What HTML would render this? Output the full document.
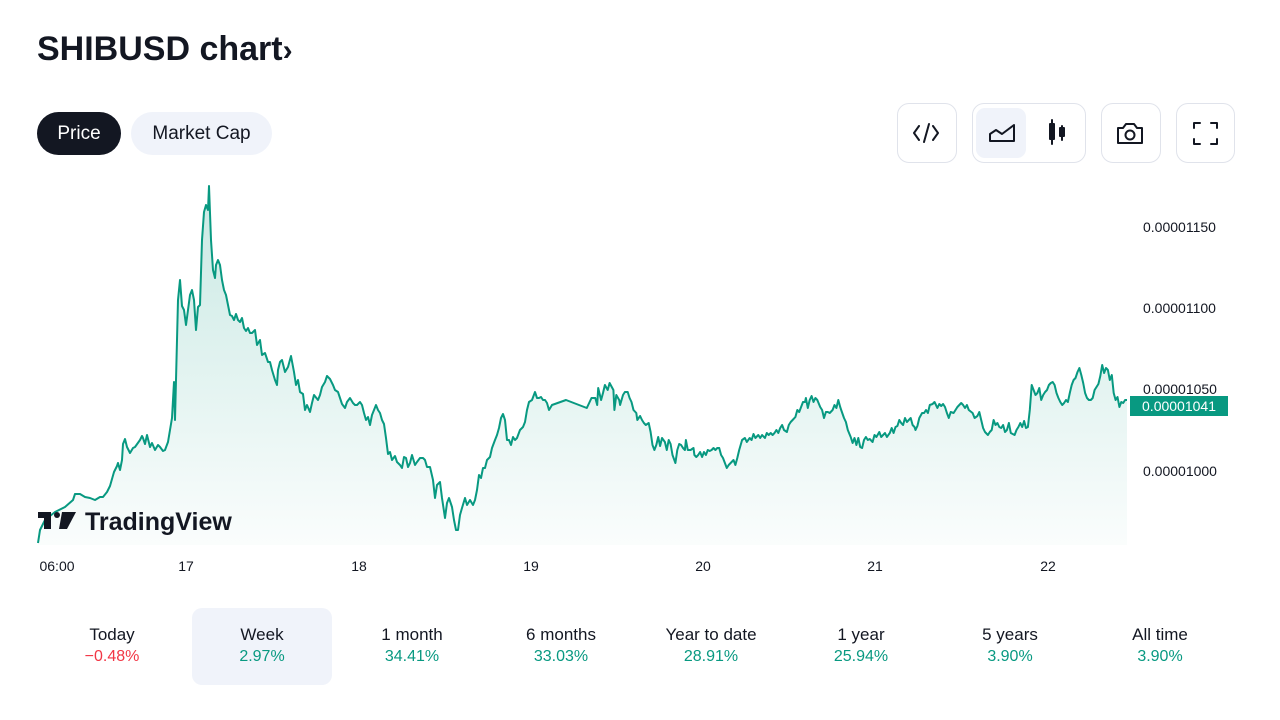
<!DOCTYPE html>
<html><head><meta charset="utf-8"><style>
*{margin:0;padding:0;box-sizing:border-box}
body{width:1280px;height:720px;background:#fff;font-family:"Liberation Sans",sans-serif;color:#131722;position:relative;overflow:hidden}
.abs{position:absolute}
h1{position:absolute;left:37px;top:30px;font-size:34px;font-weight:700;letter-spacing:0px}
.pill{position:absolute;top:112px;height:43px;border-radius:22px;font-size:19px;line-height:43px;text-align:center}
.btn{position:absolute;top:103px;height:60px;border:1px solid #e0e3eb;border-radius:12px}
.yl{position:absolute;left:1143px;font-size:14px;color:#131722}
.xl{position:absolute;top:558px;font-size:14px;color:#131722;transform:translateX(-50%)}
.st{position:absolute;top:625px;width:140px;text-align:center;font-size:17px;transform:translateX(-50%)}
.st b{display:block;font-weight:400;color:#089981;font-size:16px;margin-top:3px}
</style></head><body>
<h1>SHIBUSD chart<span style="font-size:30px">›</span></h1>
<div class="pill" style="left:37px;width:84px;background:#131722;color:#fff">Price</div>
<div class="pill" style="left:131px;width:141px;background:#f0f3fa">Market Cap</div>
<div class="btn" style="left:897px;width:60px"></div>
<div class="btn" style="left:972px;width:114px"></div>
<div class="abs" style="left:976px;top:108px;width:50px;height:50px;background:#f0f3fa;border-radius:9px"></div>
<div class="btn" style="left:1101px;width:60px"></div>
<div class="btn" style="left:1176px;width:59px"></div>
<svg class="abs" style="left:0;top:0" width="1280" height="720">
<g fill="none" stroke="#131722" stroke-width="2" stroke-linecap="round" stroke-linejoin="round">
<path d="M919 126l-5 7 5 7M933 126l5 7-5 7M929 124l-5 18"/>
<path d="M990 141v-7l6-4 6 4 12-9v16z"/>
<rect x="1050" y="124" width="4" height="15"/><path d="M1052 120v24M1062 126v14"/><rect x="1060" y="128" width="4" height="8"/>
<path d="M1118 128h5l3-4h8l3 4h5v15h-24z"/><circle cx="1130" cy="135" r="4.5"/>
<path d="M1194 128v-5h6M1211 123h6v5M1217 139v5h-6M1200 144h-6v-5"/>
</g>
<defs><linearGradient id="g" x1="0" y1="0" x2="0" y2="1"><stop offset="0" stop-color="#089981" stop-opacity="0.22"/><stop offset="1" stop-color="#089981" stop-opacity="0.02"/></linearGradient></defs>
<path id="area" fill="url(#g)"/>
<path id="line" fill="none" stroke="#089981" stroke-width="2" stroke-linejoin="round"/>
<rect x="1130" y="396" width="98" height="20" fill="#089981"/>
<text x="1179" y="411" text-anchor="middle" fill="#fff" font-size="14" font-family="Liberation Sans,sans-serif">0.00001041</text>
<g fill="#131722"><rect x="38" y="512" width="13" height="6"/><rect x="44" y="512" width="7" height="17"/><circle cx="57" cy="515" r="3"/><path d="M62 512h14l-9 17h-8z"/></g>
<text x="85" y="530" font-size="25" font-weight="700" fill="#131722" font-family="Liberation Sans,sans-serif">TradingView</text>
</svg>
<div class="yl" style="top:219px">0.00001150</div>
<div class="yl" style="top:300px">0.00001100</div>
<div class="yl" style="top:381px">0.00001050</div>
<div class="yl" style="top:463px">0.00001000</div>
<div class="xl" style="left:57px">06:00</div><div class="xl" style="left:186px">17</div><div class="xl" style="left:359px">18</div><div class="xl" style="left:531px">19</div><div class="xl" style="left:703px">20</div><div class="xl" style="left:875px">21</div><div class="xl" style="left:1048px">22</div>
<div class="abs" style="left:192px;top:608px;width:140px;height:77px;background:#f0f3fa;border-radius:10px"></div>
<div class="st" style="left:112px">Today<b style="color:#f23645">−0.48%</b></div>
<div class="st" style="left:262px">Week<b>2.97%</b></div>
<div class="st" style="left:412px">1 month<b>34.41%</b></div>
<div class="st" style="left:561px">6 months<b>33.03%</b></div>
<div class="st" style="left:711px">Year to date<b>28.91%</b></div>
<div class="st" style="left:861px">1 year<b>25.94%</b></div>
<div class="st" style="left:1010px">5 years<b>3.90%</b></div>
<div class="st" style="left:1160px">All time<b>3.90%</b></div>
<script>
var a=[38,543,40,530,45,520,55,512,65,507,73,500,75,494,80,494,85,497,90,498,95,500,100,497,103,497,107,492,110,486,114,472,117,466,118,463,120,470,122,460,123,444,125,439,127,447,130,453,133,448,135,447,140,440,142,436,143,438,145,444,147,435,150,447,152,443,155,450,158,445,160,447,163,451,165,450,168,442,170,430,172,418,174,382,175,420,176,380,178,300,180,280,182,306,184,310,186,325,188,310,190,295,192,290,194,300,196,330,198,307,200,305,202,240,204,212,206,205,208,210,209,186,211,240,213,270,215,278,216,265,218,260,220,265,222,280,224,290,226,295,228,305,230,315,232,316,234,320,236,314,238,320,240,322,242,318,244,328,246,331,248,328,250,333,252,333,255,330,257,345,260,340,262,355,265,353,268,362,270,362,272,370,275,380,277,385,278,370,280,362,282,360,285,372,288,367,291,356,294,372,296,385,298,380,300,392,303,394,305,410,307,405,310,412,312,403,314,395,318,400,320,395,322,387,325,382,327,376,330,379,333,385,335,390,338,392,340,398,342,404,345,408,347,402,350,398,353,403,355,405,357,405,360,402,362,405,364,413,366,420,368,417,370,425,372,415,374,410,376,405,378,410,380,413,382,420,384,424,386,438,388,454,390,452,392,460,395,456,397,462,400,465,402,468,404,457,406,458,408,467,410,463,412,455,415,465,417,462,420,458,423,458,425,460,427,467,430,467,433,480,435,498,437,485,440,482,442,498,445,518,447,503,449,498,452,507,454,520,456,530,458,530,460,515,462,508,465,498,467,505,470,500,473,505,475,500,477,490,479,475,481,478,483,468,485,468,487,460,490,457,492,448,495,440,497,435,499,428,501,418,503,414,505,420,507,440,509,440,511,445,513,437,515,440,517,438,520,430,523,427,525,422,527,410,529,402,532,400,535,392,537,398,539,398,541,397,543,400,545,400,547,403,549,410,552,405,566,400];
var b=[580,397,585,408,590,398,594,398,596,405,597,388,600,400,602,393,604,385,607,390,609,383,613,390,614,410,616,395,619,400,620,405,623,395,625,392,628,392,630,398,632,402,634,410,637,413,638,420,641,416,643,420,645,423,647,425,650,423,652,432,654,445,656,450,658,445,660,437,662,446,664,438,667,442,669,450,671,440,673,444,675,455,678,463,680,450,682,444,684,445,686,448,688,450,689,440,691,450,694,450,697,448,698,455,700,457,702,455,704,452,706,457,708,452,710,455,712,450,714,451,716,450,718,448,720,450,722,448,724,448,726,455,728,458,730,463,732,468,734,465,737,462,739,460,741,465,743,458,745,450,748,440,751,438,753,442,756,438,758,440,760,434,762,438,765,435,767,438,769,435,772,438,774,433,776,435,778,433,780,435,782,433,784,430,786,433,788,428,790,425,792,430,795,432,797,425,799,422,801,420,804,417,806,410,808,412,810,407,812,402,814,402,815,398,817,408,819,400,821,396,823,402,825,398,827,400,830,407,832,410,834,418,836,412,838,412,840,413,843,410,845,405,847,408,849,400,851,407,852,410,855,418,857,422,859,430,862,437,864,443,866,438,868,445,870,438,872,447,874,448,876,440,878,437,880,440,882,439,885,442,887,435,889,437,892,432,894,437,896,435,898,433,900,437,903,433,905,428,907,433,909,427,911,426,913,420,915,423,917,425,919,418,921,422,923,420,925,418,927,425,929,427,930,430,932,426,934,418,937,413,939,413,941,410,943,413,945,405,948,404,950,402,951,404,953,408,955,404,957,406,959,404,961,407,963,413,965,418,967,412,970,413,972,410,974,407,976,405,978,403,980,405,982,408,984,405,986,410,990,413,992,418,995,416,997,412,999,420,1001,428,1003,432,1006,435,1008,432,1010,430,1012,420,1014,425,1016,423,1018,427,1020,428,1022,425,1024,432,1026,430,1028,423,1030,433,1032,434,1034,435,1036,430,1038,427,1040,423,1042,427,1044,421,1046,428,1048,427,1050,410,1052,385,1054,390,1056,395,1058,393,1060,388,1062,400,1064,395,1066,392,1068,390,1070,385,1072,383,1074,382,1076,385,1078,393,1080,398,1082,402,1084,405,1086,403,1088,400,1090,402,1092,393,1094,385,1096,380,1098,378,1100,372,1102,368,1104,375,1106,383,1108,393,1110,398,1112,400,1114,400,1116,398,1118,390,1120,387,1122,384,1124,376,1126,365,1128,373,1130,368,1132,370,1134,380,1136,375,1138,393,1140,400,1142,397,1144,407,1146,402,1148,403,1150,400,1152,400];
var p=[];
for(var i=0;i<a.length;i+=2)p.push([a[i],a[i+1]]);
for(i=2;i<b.length;i+=2)p.push([582+(b[i]-580)*(1127-582)/(1152-580),b[i+1]]);
var d="M"+p.map(function(q){return q[0].toFixed(1)+" "+q[1]}).join("L");
document.getElementById("line").setAttribute("d",d);
document.getElementById("area").setAttribute("d",d+"L1127 545L38 545Z");
</script>
</body></html>
